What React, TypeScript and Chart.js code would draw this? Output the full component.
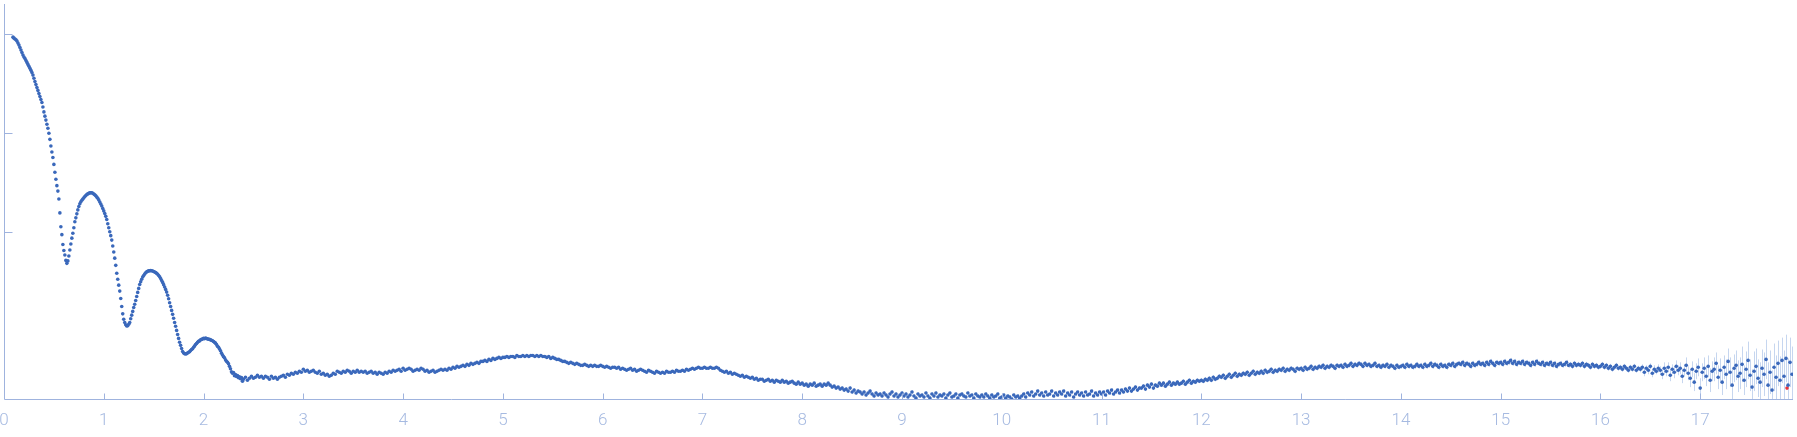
import React, { useEffect, useRef } from "react";
import { Chart, registerables } from "chart.js";

Chart.register(...registerables);

// Scattering curve: q (x) and log10 intensity (y)
const LOW_Q_START = 0.09;
const LOW_Q_STEP = 0.01;
const lowLogI = [
  -0.035, -0.045, -0.053, -0.062, -0.075, -0.095, -0.115, -0.14, -0.165, -0.19,
  -0.215, -0.235, -0.25, -0.27, -0.29, -0.31, -0.33, -0.35, -0.37, -0.392,
  -0.418, -0.45, -0.483, -0.513, -0.543, -0.573, -0.605, -0.635, -0.665, -0.695,
  -0.74, -0.79, -0.833, -0.873, -0.915, -0.955, -1.005, -1.067, -1.135, -1.195,
  -1.25, -1.32, -1.4, -1.47, -1.535, -1.59, -1.67, -1.81, -1.95, -2.03,
  -2.13, -2.19, -2.235, -2.29, -2.32, -2.295, -2.245, -2.185, -2.125, -2.065,
  -2.015, -1.96, -1.9, -1.86, -1.82, -1.78, -1.745, -1.717, -1.698, -1.682,
  -1.67, -1.658, -1.645, -1.634, -1.625, -1.618, -1.612, -1.608, -1.606, -1.607,
  -1.612, -1.62, -1.628, -1.638, -1.65, -1.663, -1.68, -1.7, -1.72, -1.74,
  -1.765, -1.79, -1.817, -1.845, -1.877, -1.92, -1.96, -2.0, -2.04, -2.085,
  -2.145, -2.205, -2.267, -2.34, -2.42, -2.48, -2.54, -2.6, -2.675, -2.755,
  -2.83, -2.885, -2.917, -2.94, -2.953, -2.95, -2.935, -2.917, -2.88, -2.843,
  -2.805, -2.765, -2.733, -2.695, -2.655, -2.613, -2.573, -2.533, -2.505, -2.48,
  -2.458, -2.442, -2.428, -2.415, -2.406, -2.4, -2.396, -2.394, -2.393, -2.394,
  -2.397, -2.402, -2.407, -2.413, -2.42, -2.43, -2.443, -2.455, -2.473, -2.493,
  -2.512, -2.535, -2.558, -2.583, -2.61, -2.642, -2.678, -2.717, -2.755, -2.795,
  -2.835, -2.875, -2.917, -2.955, -2.997, -3.038, -3.078, -3.117, -3.148, -3.18,
  -3.21, -3.225, -3.232, -3.235, -3.232, -3.226, -3.218, -3.212, -3.2, -3.19,
  -3.183, -3.168, -3.155, -3.14, -3.13, -3.118, -3.107, -3.103, -3.092, -3.088,
  -3.085, -3.076, -3.082, -3.075, -3.079, -3.083, -3.086, -3.086, -3.093, -3.096,
  -3.102, -3.109, -3.118, -3.126, -3.14, -3.158, -3.168, -3.185, -3.202, -3.227,
  -3.245, -3.262, -3.273, -3.293, -3.308, -3.32, -3.335, -3.36, -3.385, -3.415,
  -3.43, -3.423, -3.455, -3.443, -3.462, -3.454, -3.476, -3.465, -3.485, -3.473,
  -3.51,
];

const HIGH_Q_START = 2.4;
const HIGH_Q_STEP = 0.02;
const highLogI = [
  -3.49, -3.47, -3.5, -3.48, -3.46, -3.48, -3.47, -3.45, -3.47, -3.46,
  -3.48, -3.46, -3.47, -3.49, -3.46, -3.48, -3.47, -3.49, -3.47, -3.46,
  -3.45, -3.47, -3.44, -3.45, -3.43, -3.44, -3.42, -3.43, -3.41, -3.42,
  -3.39, -3.41, -3.4, -3.42, -3.41, -3.4, -3.42, -3.43, -3.41, -3.44,
  -3.43, -3.45, -3.44, -3.46, -3.45, -3.43, -3.44, -3.41, -3.42, -3.43,
  -3.41, -3.42, -3.4, -3.41, -3.43, -3.41, -3.42, -3.4, -3.42, -3.41,
  -3.42, -3.41, -3.43, -3.42, -3.41, -3.43, -3.42, -3.44, -3.42, -3.43,
  -3.44, -3.42, -3.43, -3.41, -3.42, -3.4, -3.41, -3.4, -3.39, -3.41,
  -3.38, -3.4, -3.39, -3.38, -3.39, -3.41, -3.4, -3.39, -3.4, -3.38,
  -3.39, -3.41, -3.4, -3.42, -3.41, -3.4, -3.42, -3.41, -3.4, -3.39,
  -3.4, -3.39, -3.4, -3.38, -3.39, -3.37, -3.38, -3.36, -3.37, -3.36,
  -3.35, -3.36, -3.34, -3.35, -3.33, -3.34, -3.33, -3.32, -3.33, -3.31,
  -3.31, -3.3, -3.31, -3.29, -3.3, -3.28, -3.29, -3.28, -3.27, -3.28,
  -3.27, -3.27, -3.26, -3.27, -3.26, -3.26, -3.27, -3.25, -3.26, -3.26,
  -3.25, -3.26, -3.25, -3.26, -3.25, -3.25, -3.26, -3.25, -3.26, -3.25,
  -3.26, -3.26, -3.27, -3.26, -3.28, -3.27, -3.28, -3.29, -3.29, -3.3,
  -3.31, -3.31, -3.32, -3.33, -3.32, -3.33, -3.34, -3.33, -3.34, -3.35,
  -3.35, -3.34, -3.35, -3.36, -3.35, -3.36, -3.35, -3.36, -3.36, -3.35,
  -3.36, -3.37, -3.36, -3.37, -3.38, -3.37, -3.37, -3.38, -3.37, -3.39,
  -3.38, -3.39, -3.4, -3.39, -3.38, -3.4, -3.39, -3.41, -3.4, -3.39,
  -3.4, -3.41, -3.42, -3.4, -3.41, -3.42, -3.43, -3.41, -3.42, -3.43,
  -3.42, -3.43, -3.41, -3.42, -3.42, -3.41, -3.42, -3.4, -3.41, -3.41,
  -3.4, -3.41, -3.39, -3.4, -3.39, -3.38, -3.39, -3.38, -3.37, -3.38,
  -3.38, -3.37, -3.38, -3.38, -3.37, -3.38, -3.38, -3.37, -3.38, -3.4,
  -3.41, -3.42, -3.41, -3.43, -3.42, -3.44, -3.43, -3.44, -3.45, -3.46,
  -3.45, -3.47, -3.46, -3.47, -3.48, -3.47, -3.49, -3.48, -3.5, -3.49,
  -3.49, -3.51, -3.5, -3.49, -3.51, -3.5, -3.52, -3.5, -3.51, -3.52,
  -3.5, -3.52, -3.51, -3.53, -3.52, -3.51, -3.53, -3.54, -3.52, -3.54,
  -3.53, -3.55, -3.54, -3.56, -3.54, -3.55, -3.53, -3.56, -3.55, -3.54,
  -3.56, -3.54, -3.55, -3.53, -3.55, -3.57, -3.56, -3.58, -3.57, -3.59,
  -3.58, -3.6, -3.59, -3.61, -3.58, -3.62, -3.6, -3.63, -3.61, -3.62,
  -3.64, -3.62, -3.65, -3.63, -3.61, -3.64, -3.66, -3.63, -3.65, -3.64,
  -3.66, -3.63, -3.65, -3.67, -3.64, -3.62, -3.66, -3.64, -3.67, -3.65,
  -3.63, -3.66, -3.64, -3.67, -3.65, -3.62, -3.66, -3.68, -3.64, -3.66,
  -3.65, -3.67, -3.63, -3.66, -3.68, -3.64, -3.66, -3.63, -3.67, -3.65,
  -3.66, -3.64, -3.68, -3.65, -3.63, -3.67, -3.66, -3.64, -3.68, -3.65,
  -3.64, -3.66, -3.67, -3.63, -3.66, -3.65, -3.68, -3.64, -3.66, -3.67,
  -3.65, -3.67, -3.64, -3.66, -3.68, -3.65, -3.67, -3.66, -3.64, -3.68,
  -3.67, -3.65, -3.68, -3.66, -3.67, -3.69, -3.65, -3.67, -3.66, -3.68,
  -3.66, -3.64, -3.67, -3.63, -3.65, -3.62, -3.66, -3.64, -3.61, -3.65,
  -3.63, -3.66, -3.62, -3.65, -3.64, -3.61, -3.66, -3.63, -3.65, -3.62,
  -3.64, -3.61, -3.66, -3.63, -3.65, -3.62, -3.67, -3.64, -3.62, -3.65,
  -3.63, -3.66, -3.62, -3.65, -3.64, -3.61, -3.66, -3.63, -3.65, -3.62,
  -3.64, -3.62, -3.65, -3.61, -3.63, -3.6, -3.64, -3.62, -3.6, -3.63,
  -3.6, -3.62, -3.59, -3.61, -3.58, -3.61, -3.59, -3.57, -3.6, -3.58,
  -3.58, -3.56, -3.59, -3.55, -3.57, -3.54, -3.58, -3.55, -3.56, -3.53,
  -3.55, -3.53, -3.56, -3.54, -3.52, -3.55, -3.53, -3.54, -3.52, -3.54,
  -3.53, -3.51, -3.54, -3.52, -3.5, -3.53, -3.51, -3.52, -3.5, -3.51,
  -3.5, -3.51, -3.49, -3.5, -3.48, -3.5, -3.47, -3.49, -3.48, -3.46,
  -3.47, -3.45, -3.48, -3.46, -3.44, -3.47, -3.45, -3.43, -3.46, -3.44,
  -3.45, -3.43, -3.44, -3.42, -3.45, -3.43, -3.41, -3.44, -3.42, -3.43,
  -3.41, -3.43, -3.4, -3.42, -3.41, -3.39, -3.42, -3.4, -3.41, -3.39,
  -3.4, -3.38, -3.41, -3.39, -3.4, -3.38, -3.39, -3.41, -3.38, -3.39,
  -3.38, -3.4, -3.37, -3.39, -3.38, -3.36, -3.39, -3.37, -3.38, -3.36,
  -3.37, -3.35, -3.38, -3.36, -3.37, -3.35, -3.36, -3.38, -3.35, -3.36,
  -3.35, -3.37, -3.34, -3.36, -3.35, -3.33, -3.36, -3.34, -3.35, -3.33,
  -3.34, -3.36, -3.33, -3.35, -3.34, -3.36, -3.35, -3.33, -3.36, -3.35,
  -3.37, -3.35, -3.36, -3.34, -3.37, -3.35, -3.36, -3.38, -3.35, -3.37,
  -3.36, -3.35, -3.37, -3.34, -3.36, -3.35, -3.37, -3.36, -3.34, -3.36,
  -3.35, -3.37, -3.34, -3.36, -3.35, -3.33, -3.36, -3.34, -3.35, -3.37,
  -3.34, -3.36, -3.35, -3.37, -3.34, -3.35, -3.33, -3.36, -3.34, -3.33,
  -3.34, -3.32, -3.35, -3.33, -3.34, -3.36, -3.33, -3.35, -3.34, -3.32,
  -3.34, -3.33, -3.35, -3.32, -3.34, -3.31, -3.33, -3.35, -3.32, -3.33,
  -3.32, -3.34, -3.31, -3.33, -3.32, -3.3, -3.33, -3.31, -3.34, -3.32,
  -3.33, -3.31, -3.34, -3.32, -3.33, -3.35, -3.32, -3.34, -3.31, -3.33,
  -3.34, -3.32, -3.35, -3.33, -3.34, -3.32, -3.35, -3.33, -3.36, -3.34,
  -3.33, -3.35, -3.34, -3.32, -3.35, -3.34, -3.36, -3.33, -3.35, -3.34,
  -3.35, -3.33, -3.36, -3.34, -3.35, -3.37, -3.34, -3.36, -3.35, -3.37,
  -3.36, -3.34, -3.37, -3.35, -3.38, -3.36, -3.39, -3.37, -3.35, -3.38,
  -3.37, -3.39, -3.36, -3.38, -3.4, -3.37, -3.39, -3.36, -3.4, -3.38,
  -3.39, -3.37, -3.42, -3.38, -3.4, -3.36, -3.43, -3.39, -3.41, -3.38,
  -3.4, -3.44, -3.38, -3.41, -3.37, -3.45, -3.39, -3.42, -3.36, -3.4,
  -3.38, -3.46, -3.4, -3.35, -3.43, -3.48, -3.39, -3.52, -3.41, -3.37,
  -3.58, -3.42, -3.38, -3.46, -3.36, -3.5, -3.41, -3.39, -3.33, -3.47,
  -3.4, -3.52, -3.37, -3.44, -3.31, -3.42, -3.55, -3.38, -3.35, -3.46,
  -3.43, -3.34, -3.5, -3.39, -3.3, -3.45, -3.57, -3.41, -3.36, -3.48,
  -3.52, -3.38, -3.44, -3.29, -3.55, -3.42, -3.6, -3.37, -3.47, -3.33,
  -3.5, -3.3, -3.46, -3.28, -3.55, -3.32, -3.44,
];

// error (log units) for the noisy tail, starting at q = 16.40
const TAIL_ERR_Q_START = 16.4;
const tailErr = [
  0.03, 0.03, 0.04, 0.03, 0.04, 0.03, 0.04, 0.04, 0.03, 0.04,
  0.04, 0.05, 0.06, 0.05, 0.05, 0.06, 0.05, 0.06, 0.06, 0.05,
  0.06, 0.07, 0.06, 0.08, 0.07, 0.09, 0.08, 0.09, 0.08, 0.09,
  0.1, 0.09, 0.11, 0.1, 0.11, 0.12, 0.1, 0.12, 0.11, 0.12,
  0.12, 0.13, 0.12, 0.15, 0.13, 0.15, 0.16, 0.14, 0.15, 0.16,
  0.16, 0.18, 0.15, 0.18, 0.19, 0.16, 0.18, 0.2, 0.18, 0.19,
  0.2, 0.19, 0.22, 0.2, 0.23, 0.22, 0.2, 0.24, 0.22, 0.23,
  0.24, 0.23, 0.26, 0.24, 0.27, 0.25, 0.28,
];
// error level before the tail, by q range start
const errRangeStart = [0, 2.4, 8.4, 12, 14];
const errRangeValue = [0, 0.008, 0.02, 0.022, 0.025];

const flaggedQ = [17.87];
const flaggedLogI = [-3.58];

const xTickValues = [0, 1, 2, 3, 4, 5, 6, 7, 8, 9, 10, 11, 12, 13, 14, 15, 16, 17];
const yTickValues = [0, -1, -2];

const AXIS_COLOR = "#9fb3de";
const LABEL_COLOR = "#a6bae1";
const POINT_COLOR = "#3a68bb";
const ERR_COLOR = "rgba(160,186,228,0.6)";

function buildPoints() {
  const pts: { x: number; y: number; e: number }[] = [];
  lowLogI.forEach((v, i) => {
    pts.push({ x: +(LOW_Q_START + i * LOW_Q_STEP).toFixed(3), y: v, e: 0 });
  });
  highLogI.forEach((v, i) => {
    const q = +(HIGH_Q_START + i * HIGH_Q_STEP).toFixed(3);
    let e = 0;
    const ti = Math.round((q - TAIL_ERR_Q_START) / HIGH_Q_STEP);
    if (ti >= 0 && ti < tailErr.length) e = tailErr[ti];
    else {
      for (let k = 0; k < errRangeStart.length; k++) if (q >= errRangeStart[k]) e = errRangeValue[k];
    }
    pts.push({ x: q, y: v, e });
  });
  return pts;
}

const axesPlugin = {
  id: "inwardAxes",
  beforeDatasetsDraw(chart: any) {
    const { ctx, chartArea, scales } = chart;
    const ds = chart.data.datasets[0];
    ctx.save();
    ctx.beginPath();
    ctx.rect(chartArea.left, chartArea.top, chartArea.right - chartArea.left, chartArea.bottom - chartArea.top);
    ctx.clip();
    ctx.strokeStyle = ERR_COLOR;
    ctx.lineWidth = 1;
    ctx.beginPath();
    for (const p of ds.data as any[]) {
      if (!p.e) continue;
      const x = Math.round(scales.x.getPixelForValue(p.x)) + 0.5;
      ctx.moveTo(x, scales.y.getPixelForValue(p.y + p.e));
      ctx.lineTo(x, scales.y.getPixelForValue(p.y - p.e));
    }
    ctx.stroke();
    ctx.restore();
  },
  afterDraw(chart: any) {
    const { ctx, chartArea, scales } = chart;
    ctx.save();
    ctx.strokeStyle = AXIS_COLOR;
    ctx.lineWidth = 1;
    ctx.beginPath();
    const left = Math.round(chartArea.left) + 0.5;
    const bottom = Math.round(chartArea.bottom) + 0.5;
    ctx.moveTo(left, chartArea.top);
    ctx.lineTo(left, bottom);
    ctx.lineTo(chartArea.right, bottom);
    for (const t of xTickValues) {
      if (t === 0) continue;
      const x = Math.round(scales.x.getPixelForValue(t)) + 0.5;
      ctx.moveTo(x, bottom);
      ctx.lineTo(x, bottom - 6);
    }
    for (const t of yTickValues) {
      const y = Math.round(scales.y.getPixelForValue(t)) + 0.5;
      ctx.moveTo(left, y);
      ctx.lineTo(left + 8, y);
    }
    ctx.stroke();
    ctx.fillStyle = LABEL_COLOR;
    ctx.font = "300 17px Roboto, 'Open Sans', sans-serif";
    ctx.textAlign = "center";
    ctx.textBaseline = "alphabetic";
    for (const t of xTickValues) {
      const x = scales.x.getPixelForValue(t);
      ctx.fillText(String(t), x, bottom + 25.5);
    }
    ctx.restore();
  },
};

export default function App() {
  const canvasRef = useRef<HTMLCanvasElement | null>(null);

  useEffect(() => {
    document.body.style.margin = "0";
    const canvas = canvasRef.current;
    if (!canvas) return;
    const points = buildPoints();
    const flagged = flaggedQ.map((q, i) => ({ x: q, y: flaggedLogI[i] }));
    const chart = new Chart(canvas, {
      type: "scatter",
      data: {
        datasets: [
          {
            data: points,
            pointRadius: 1.8,
            pointBorderWidth: 0,
            pointBackgroundColor: POINT_COLOR,
            pointBorderColor: POINT_COLOR,
            showLine: false,
          },
          {
            data: flagged,
            pointRadius: 1.8,
            pointBorderWidth: 0,
            pointBackgroundColor: "#e8353a",
            pointBorderColor: "#e8353a",
            showLine: false,
          },
        ],
      },
      plugins: [axesPlugin],
      options: {
        animation: false,
        responsive: false,
        maintainAspectRatio: false,
        layout: { padding: { left: 4, right: 0, top: 0, bottom: 38 } },
        plugins: { legend: { display: false }, tooltip: { enabled: false } },
        scales: {
          x: {
            type: "linear",
            display: false,
            min: 0,
            max: 17.93,
          },
          y: {
            type: "linear",
            display: false,
            min: -3.69,
            max: 0.3,
          },
        },
      },
    });
    return () => chart.destroy();
  }, []);

  return (
    <div style={{ width: 1797, height: 437 }}>
      <canvas ref={canvasRef} width={1797} height={437} style={{ display: "block" }} />
    </div>
  );
}
